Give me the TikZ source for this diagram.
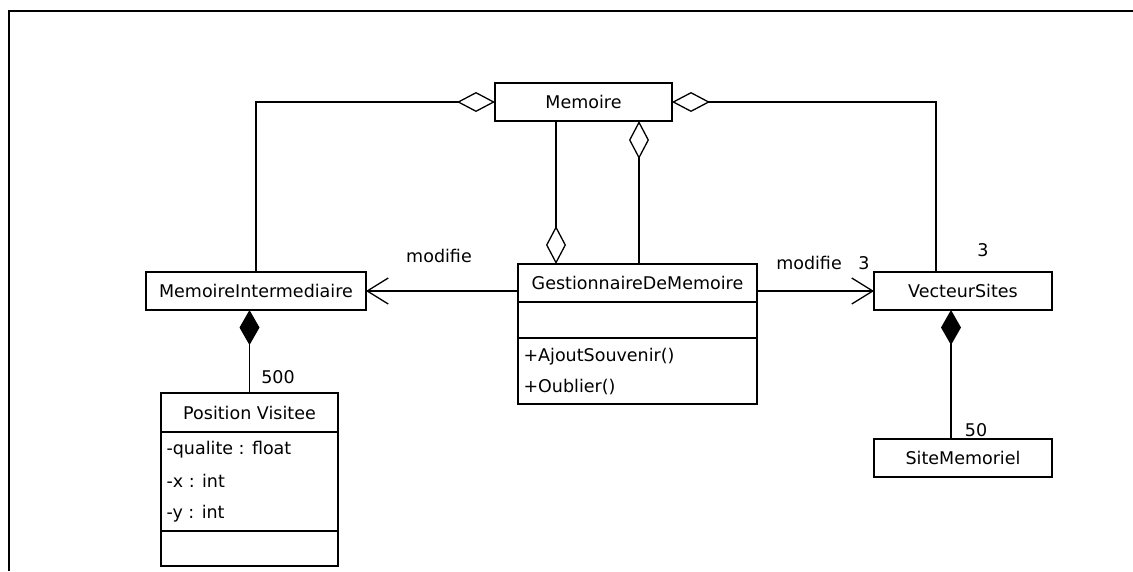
\documentclass[tikz,border=0pt]{standalone}
\usepackage{fontspec}
\setmainfont{DejaVu Sans}
\usetikzlibrary{arrows.meta,positioning}

\begin{document}
\begin{tikzpicture}[x=1pt,y=-1pt,
    every node/.style={font=\fontsize{17.5}{21}\selectfont},
    cls/.style={draw,line width=1.6,fill=white,inner sep=0,outer sep=0,minimum height=38},
    agg/.style={line width=1.6,-{Diamond[open,length=38pt,width=20pt,line width=1.3pt]}},
    comp/.style={line width=1.6,-{Diamond[length=35pt,width=20pt]}},
    dep/.style={line width=1.6,-{Straight Barb[length=21pt,width=26pt,line width=1.3pt]}}]
    \useasboundingbox (0,0) rectangle (1133,571);
    \draw[line width=2.5] (9,571) -- (9,11) -- (1133,11);
    \node[cls,minimum width=177] (mem) at (583.5,102) {Memoire};
    \node[cls,minimum width=220] (mi) at (256,291) {MemoireIntermediaire};
    \node[cls,minimum width=239] (gest) at (637.5,283) {GestionnaireDeMemoire};
    \node[cls,minimum width=239,minimum height=36,below=0pt of gest] (gestattr) {};
    \node[cls,minimum width=239,minimum height=66,below=0pt of gestattr] (gestops) {};
    \node[anchor=west] (gestop1) at (520,357) {+AjoutSouvenir()};
    \node[anchor=west] (gestop2) at (520,387) {+Oublier()};
    \node[cls,minimum width=177,minimum height=39] (pv) at (249.5,412.5) {Position Visitee};
    \node[cls,minimum width=177,minimum height=99,below=0pt of pv] (pvattr) {};
    \node[cls,minimum width=177,minimum height=35,below=0pt of pvattr] (pvops) {};
    \foreach \attr/\y [count=\i] in {-qualite : float/450,-x : int/481,-y : int/514}
      \node[anchor=west] (pvattr\i) at (163,\y) {\attr};
    \node[cls,minimum width=178] (vs) at (963,291) {VecteurSites};
    \node[cls,minimum width=178] (sm) at (963,458) {SiteMemoriel};
    \draw[agg] (mi.north) |- (mem.west);
    \draw[agg] ([xshift=-27pt]vs.north) |- (mem.east);
    \draw[agg] ([xshift=-27.5pt]mem.south) -- ([xshift=-27.5pt]mem.south |- gest.north);
    \draw[agg] ([xshift=1.5pt]gest.north) -- ([xshift=1.5pt]gest.north |- mem.south);
    \draw[dep] (gest.west |- mi.east) -- (mi.east);
    \draw[dep] (gest.east |- vs.west) -- (vs.west);
    \draw[comp] (pv.north) -- (pv.north |- mi.south);
    \draw[comp] ([xshift=-12pt]sm.north) -- ([xshift=-12pt]sm.north |- vs.south);
    \node (lblmodmi) at (439,256) {modifie};
    \node (lblmodvs) at (809,263) {modifie};
    \node (lblmultvs) at (864,263) {3};
    \node (lblmultmem) at (983,250) {3};
    \node (lblmultpv) at (278,377) {500};
    \node (lblmultsm) at (976,430) {50};
\end{tikzpicture}
\end{document}
